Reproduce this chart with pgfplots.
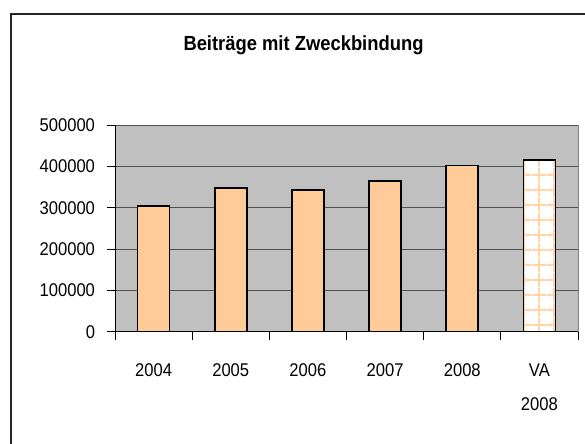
\documentclass[border=0pt]{standalone}
\usepackage{fontspec}
\setmainfont{Liberation Sans}
\newfontfamily\narrowfont[FakeStretch=0.9]{Liberation Sans}
\usepackage{pgfplots}
\pgfplotsset{compat=1.18}
\usetikzlibrary{patterns.meta}
\definecolor{peach}{HTML}{FFCC99}
\definecolor{plotgray}{HTML}{C0C0C0}
\definecolor{gridgray}{HTML}{505050}

\begin{document}
\begin{tikzpicture}[x=1bp,y=1bp]
\path[use as bounding box] (0,0) rectangle (585,444);
% outer frame (only left and top edges are visible)
\draw[line width=1.3bp, black!85] (11,-5) -- (11,430) -- (590,430);
\node[font=\narrowfont\fontsize{20.5}{24}\selectfont\bfseries] at (303.5,399) {Beiträge mit Zweckbindung};

\begin{axis}[
    at={(115bp,112.3bp)}, anchor=south west,
    scale only axis, width=463bp, height=206.7bp,
    xmin=-0.5, xmax=5.5, ymin=0, ymax=500000,
    axis background/.style={fill=plotgray, draw=gray},
    axis lines*=left,
    axis line style={black, line width=0.8bp},
    tick align=outside,
    major tick length=8.5bp,
    tick style={black, line width=0.8bp},
    ymajorgrids,
    major grid style={gridgray, line width=0.8bp},
    ytick={0,100000,...,500000},
    scaled y ticks=false,
    yticklabel style={/pgf/number format/fixed, /pgf/number format/1000 sep={}},
    y tick label style={xshift=-8bp},
    /pgf/number format/assume math mode=true,
    tick label style={font=\narrowfont\fontsize{18.5}{22}\selectfont},
    xtick={-0.5,0.5,...,5.5},
    xticklabels={},
    extra x ticks={0,1,2,3,4,5},
    extra x tick labels={2004,2005,2006,2007,2008,{VA\\[12bp]2008}},
    extra x tick style={
        tick style={draw=none},
        tick label style={align=center, yshift=-20bp}},
]
\addplot[ybar, bar width=32bp, fill=peach, draw=black, line width=1.6bp]
    coordinates {(0,303400) (1,348300) (2,342800) (3,363800) (4,401600)};
\addplot[ybar, bar width=32bp, draw=black, line width=1.6bp,
    preaction={fill=white},
    preaction={pattern={Hatch[angle=0,distance=15bp,line width=2bp]}, pattern color=peach!85!white}]
    coordinates {(5,415400)};
\end{axis}
\end{tikzpicture}
\end{document}
